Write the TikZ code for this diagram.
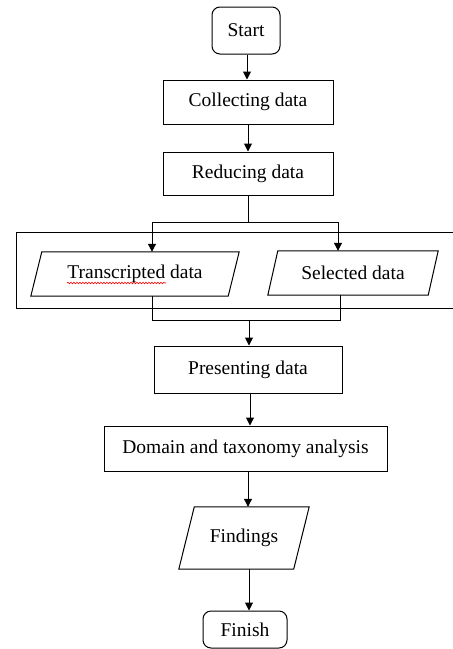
\documentclass[tikz,border=0pt]{standalone}
\usepackage{fontspec}
\setmainfont{Liberation Serif}
\usetikzlibrary{arrows.meta,decorations.pathmorphing}
\begin{document}
\begin{tikzpicture}[x=1pt,y=-1pt,
  every node/.style={font=\fontsize{19.5}{23}\selectfont, inner sep=1pt},
  procbox/.style={draw, line width=1pt, rectangle},
  termbox/.style={draw, line width=1pt, rectangle, rounded corners=8pt},
  iobox/.style={rectangle},
  line/.style={line width=1pt},
  arr/.style={line width=1pt, -{Triangle[length=8pt,width=8pt]}}]
\useasboundingbox (0,0) rectangle (453,649);
% outer group box
\draw[line] (453,232) -- (16,232) -- (16,308) -- (453,308);
\node[termbox, minimum width=68pt, minimum height=47pt] (start) at (246,30.5) {Start};
\node[procbox, minimum width=170pt, minimum height=44pt] (col) at (248,102) {Collecting data};
\node[procbox, minimum width=170pt, minimum height=43pt] (red) at (248,173.5) {Reducing data};
\node[iobox, minimum width=208pt, minimum height=44pt] (tr) at (135,274) {Transcripted data};
\node[iobox, minimum width=170pt, minimum height=44pt] (sel) at (353,273) {Selected data};
\node[procbox, minimum width=188pt, minimum height=47pt] (pres) at (248,369.5) {Presenting data};
\node[procbox, minimum width=283pt, minimum height=45pt] (dom) at (245.5,448.5) {Domain and taxonomy analysis};
\node[iobox, minimum width=130pt, minimum height=62pt] (find) at (244,538) {Findings};
\node[termbox, minimum width=84pt, minimum height=37pt] (fin) at (245,629.5) {Finish};
% parallelogram outlines
\draw[line] ([xshift=11pt]tr.north west) -- (tr.north east) -- ([xshift=-11pt]tr.south east) -- (tr.south west) -- cycle;
\draw[line] ([xshift=10pt]sel.north west) -- (sel.north east) -- ([xshift=-10pt]sel.south east) -- (sel.south west) -- cycle;
\draw[line] ([xshift=15.5pt]find.north west) -- (find.north east) -- ([xshift=-15.5pt]find.south east) -- (find.south west) -- cycle;
% spelling underline
\draw[red, line width=0.6pt, decorate, decoration={snake, amplitude=0.8pt, segment length=3pt}] (67,283) -- (166,283);
% connectors
\coordinate (split) at (248,222);
\coordinate (sl) at (152,222);
\coordinate (sr) at (338,222);
\coordinate (jl) at (152,320);
\coordinate (jr) at (340,320);
\coordinate (join) at (249,320);
\draw[arr] (start.south -| 247,0) -- (col.north -| 247,0);
\draw[arr] (col) -- (red);
\draw[line] (red.south) -- (split);
\draw[line] (sl) -- (sr);
\draw[arr] (sl) -- (sl |- tr.north);
\draw[arr] (sr) -- (sr |- sel.north);
\draw[line] (jl |- tr.south) -- (jl) -- (jr) -- (jr |- sel.south);
\draw[arr] (join) -- (join |- pres.north);
\draw[arr] (pres.south -| 250,0) -- (dom.north -| 250,0);
\draw[arr] (dom.south -| 248,0) -- (find.north -| 248,0);
\draw[arr] (find.south -| 249,0) -- (fin.north -| 249,0);
\end{tikzpicture}
\end{document}
